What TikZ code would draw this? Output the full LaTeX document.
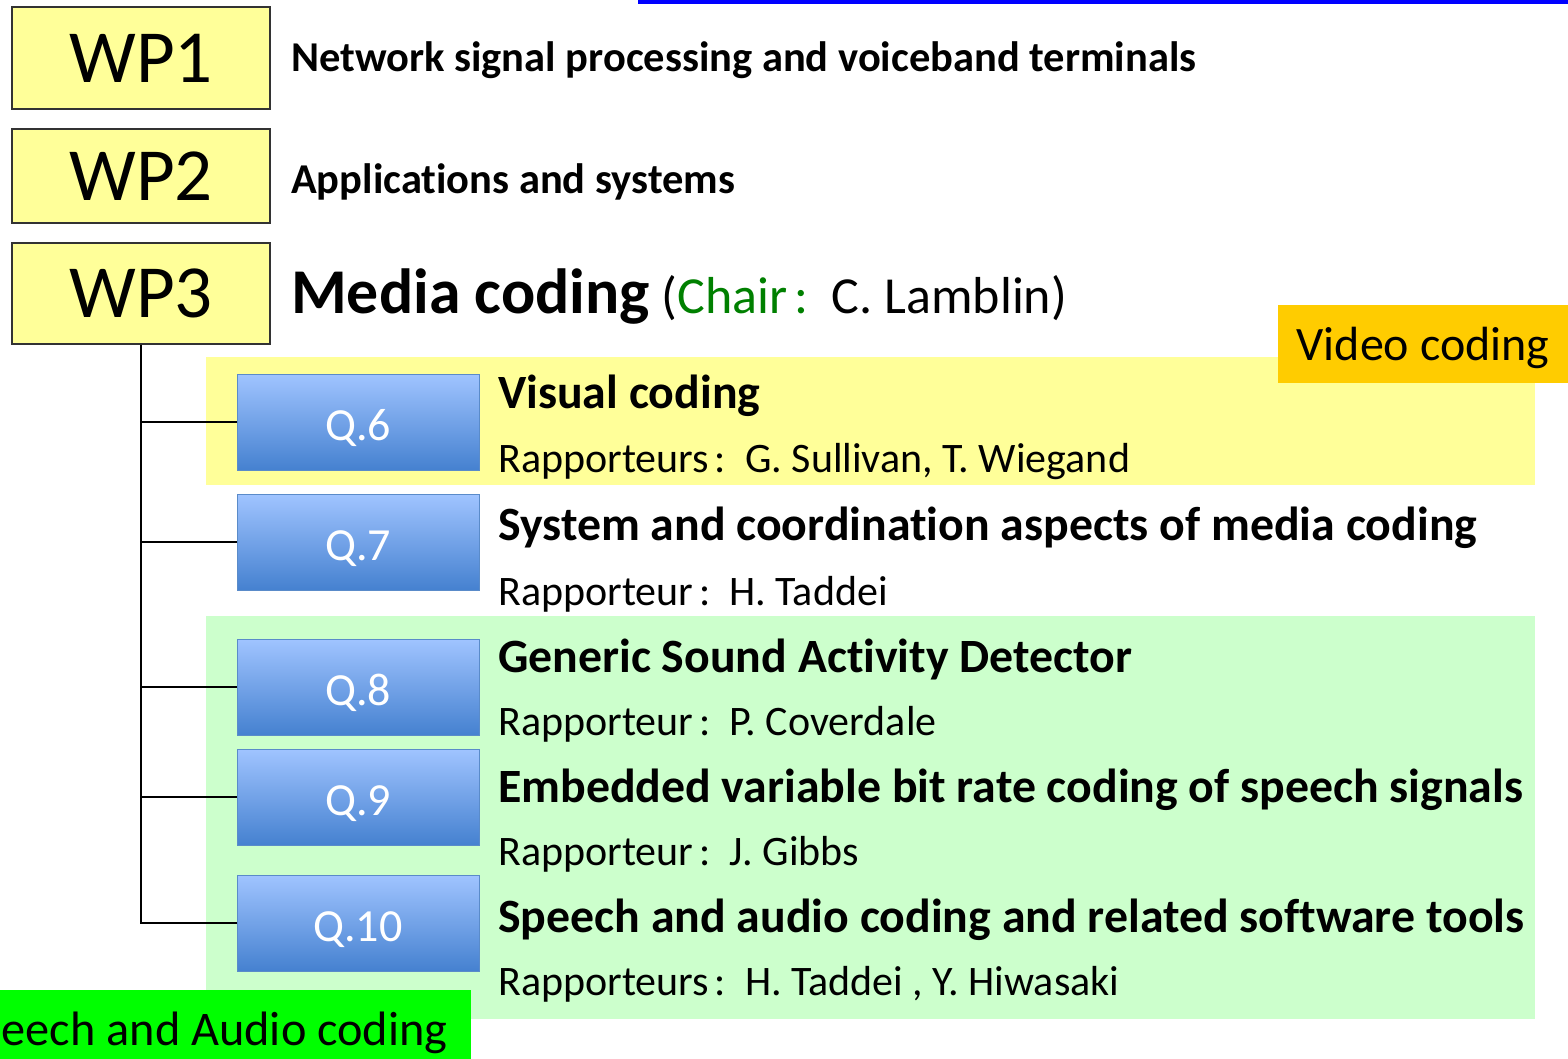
\documentclass[tikz,border=0pt]{standalone}
\usepackage{fontspec}
\setmainfont{Carlito}[Ligatures=NoCommon]
\definecolor{wpyellow}{HTML}{FFFF99}
\definecolor{bandyellow}{HTML}{FFFF99}
\definecolor{bandgreen}{HTML}{CCFFCC}
\definecolor{videoorange}{HTML}{FFCC00}
\definecolor{speechgreen}{HTML}{00FF00}
\definecolor{chairgreen}{HTML}{008000}
\definecolor{qtop}{HTML}{A0C4FF}
\definecolor{qbottom}{HTML}{4581D0}
\definecolor{qedge}{HTML}{5A8BC9}
\tikzset{
	wpbox/.style={draw=black!80,fill=wpyellow,line width=1.5pt,minimum width=258pt,inner sep=0pt,font=\fontsize{75}{77}\selectfont},
	qbox/.style={draw=qedge,line width=1pt,top color=qtop,bottom color=qbottom,minimum width=242pt,minimum height=96pt,inner sep=0pt,text height=36pt,text depth=0pt,text=white,font=\fontsize{46}{48}\selectfont},
	wptext/.style={anchor=base west,inner sep=0pt,font=\fontsize{42.5}{44}\selectfont\bfseries},
	qtitle/.style={anchor=base west,inner sep=0pt,font=\fontsize{47.8}{49}\selectfont\bfseries},
	rapp/.style={anchor=base west,inner sep=0pt,font=\fontsize{42}{44}\selectfont},
	tag/.style={anchor=base west,inner sep=0pt,font=\fontsize{48.3}{50}\selectfont}
}
\newcommand{\rcolon}{\kern6pt:\ \ }
\begin{document}
\begin{tikzpicture}[x=1pt,y=-1pt]
	\useasboundingbox[fill=white] (0,0) rectangle (1568,1059);

	% coloured bands
	\fill[bandyellow] (206,357) rectangle (1535,485);
	\fill[bandgreen] (206,616) rectangle (1535,1019);
	\fill[blue] (638,0) rectangle (1568,4);

	\node 	(wp1)	at	(141,58) 	[wpbox,minimum height=102pt]{WP1};
	\node 	(wp2)	at	(141,176) 	[wpbox,minimum height=94pt]{WP2};
	\node 	(wp3)	at	(141,293.5) 	[wpbox,minimum height=101pt]{WP3};

	\node 	(t1)	at	(291,72) 	[wptext]{Network signal processing and voiceband terminals};
	\node 	(t2)	at	(291,194) 	[wptext]{Applications and systems};
	\node 	(t3)	at	(291,313) 	[anchor=base west,inner sep=0pt]{{\fontsize{63.8}{65}\selectfont\bfseries Media coding}{\fontsize{52}{54}\selectfont\ (\textcolor{chairgreen}{Chair\kern7pt:}\ \ C. Lamblin)}};

	\node 	(video)	at	(1423,344) 	[fill=videoorange,minimum width=290pt,minimum height=78pt,inner sep=0pt,text height=32pt,text depth=0pt,font=\fontsize{48}{50}\selectfont]{Video coding};

	\node 	(q6)	at	(358,422) 	[qbox]{Q.6};
	\node 	(q7)	at	(358,542) 	[qbox]{Q.7};
	\node 	(q8)	at	(358,687) 	[qbox]{Q.8};
	\node 	(q9)	at	(358,797) 	[qbox]{Q.9};
	\node 	(q10)	at	(358,923) 	[qbox]{Q.10};

	\foreach \q in {q6,q7,q8,q9,q10}
		\draw[line width=1.5pt,black] (wp3.south) |- (\q.west);

	\node 	(q6t)	at	(498,408) 	[qtitle]{Visual coding};
	\node 	(q6r)	at	(498,472) 	[rapp]{Rapporteurs\rcolon G. Sullivan, T. Wiegand};
	\node 	(q7t)	at	(498,540) 	[qtitle]{System and coordination aspects of media coding};
	\node 	(q7r)	at	(498,605) 	[rapp]{Rapporteur\rcolon H. Taddei};
	\node 	(q8t)	at	(498,672) 	[qtitle]{Generic Sound Activity Detector};
	\node 	(q8r)	at	(498,735) 	[rapp]{Rapporteur\rcolon P. Coverdale};
	\node 	(q9t)	at	(498,802) 	[qtitle]{Embedded variable bit rate coding of speech signals};
	\node 	(q9r)	at	(498,865) 	[rapp]{Rapporteur\rcolon J. Gibbs};
	\node 	(q10t)	at	(498,932) 	[qtitle]{Speech and audio coding and related software tools};
	\node 	(q10r)	at	(498,995) 	[rapp]{Rapporteurs\rcolon H. Taddei , Y. Hiwasaki};

	% speech tag, cut off at the left edge
	\begin{scope}
		\clip (0,0) rectangle (1568,1059);
		\fill[speechgreen] (0,990) rectangle (471,1059);
		\node 	(speech)	at	(-46,1045) 	[tag]{Speech and Audio coding};
	\end{scope}
\end{tikzpicture}
\end{document}
